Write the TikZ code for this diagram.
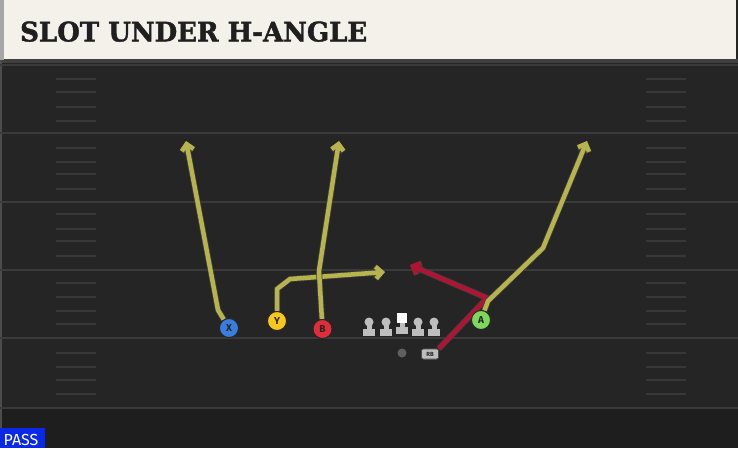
\documentclass[tikz,border=0pt]{standalone}
\usepackage{fontspec}
\usepackage{graphicx}
\setsansfont{Fira Sans}
\newfontfamily\titlefont{DejaVu Serif}[BoldFont={DejaVu Serif Bold}, BoldFeatures={FakeBold=1.6}]
\usetikzlibrary{arrows.meta}
\definecolor{field}{RGB}{37,37,37}
\definecolor{yardln}{RGB}{58,58,58}
\definecolor{hashc}{RGB}{56,56,56}
\definecolor{cream}{RGB}{244,241,235}
\definecolor{routeY}{RGB}{183,180,78}
\definecolor{routeR}{RGB}{176,20,52}
\definecolor{pX}{RGB}{58,125,222}
\definecolor{pY}{RGB}{246,200,30}
\definecolor{pB}{RGB}{224,45,58}
\definecolor{pA}{RGB}{126,214,90}
\definecolor{linem}{RGB}{190,190,190}
\definecolor{passblue}{RGB}{10,40,232}
\tikzset{
  yard/.style={draw=yardln, line width=2pt},
  hashm/.style={draw=hashc, line width=1.5pt},
  player/.style={circle, draw=black!85, line width=0.9pt, minimum size=19pt, inner sep=0pt,
     font=\sffamily\bfseries\fontsize{10}{10}\selectfont, text=black!85},
  rbbox/.style={rounded corners=2pt, fill=linem, draw=black!70, line width=0.6pt, minimum width=17pt, minimum height=10pt, inner sep=0pt,
     font=\sffamily\bfseries\fontsize{6}{6}\selectfont, text=black!85},
  route/.style={draw=#1, line width=4.5pt, line join=round,
     preaction={draw=black!75, line width=6pt},
     -{Straight Barb[length=6pt,width=12pt]}}
}
\begin{document}
\begin{tikzpicture}[x=1pt,y=-1pt]
\useasboundingbox (0,0) rectangle (738,448);
% field
\fill[field] (0,0) rectangle (738,448);
\fill[black!20!field] (0,408) rectangle (738,448);
\fill[black!75] (0,59) rectangle (738,63);
\fill[gray!60!black] (0,60) rectangle (2,448);
% yard lines
\foreach \yy in {65,133,202,270,338,408} {
  \draw[yard] (0,\yy) -- (738,\yy);
}
% hash marks
\foreach \yy in {79,92,107,121,148,162,174,189,214,229,241,256,283,297,311,324,353,367,380,394} {
  \draw[hashm] (56,\yy) -- (96,\yy);
  \draw[hashm] (646,\yy) -- (686,\yy);
}
% header
\fill[cream] (4,0) rectangle (736,59);
\fill[gray!70] (0,0) rectangle (4,60);
\node[anchor=south west, inner sep=0pt, text=black!88] (title) at (20,42)
  {\resizebox{347pt}{20pt}{\titlefont\bfseries SLOT UNDER H-ANGLE}};
% offensive line
\foreach \xx/\nm in {369/lt,386/lg,418/rg,434/rt} {
  \fill[linem] (\xx-6,329) rectangle (\xx+6,336);
  \fill[linem] (\xx-2.5,324) rectangle (\xx+2.5,331);
  \fill[linem] (\xx,322) circle (4.5pt);
  \coordinate (\nm) at (\xx,328);
}
\fill[linem] (396,327) rectangle (408,334);
\fill[linem] (399.5,322) rectangle (404.5,328);
\node[fill=white, minimum size=10pt, inner sep=0pt] (C) at (402,318) {};
\node[circle, fill=gray!75!black, minimum size=9pt, inner sep=0pt] (QB) at (402,353) {};
% routes
\coordinate (x1) at (218,310);
\coordinate (xe) at (186,141);
\coordinate (y1) at (277,289);
\coordinate (y2) at (290,279);
\coordinate (ye) at (385,272);
\coordinate (b1) at (319,271);
\coordinate (be) at (339,141);
\coordinate (a1) at (488,301);
\coordinate (a2) at (543,248);
\coordinate (ae) at (587,141);
\coordinate (r1) at (487,298);
\coordinate (re) at (410,265);
\node[player, fill=pX] (X) at (229,328) {X};
\node[player, fill=pY] (Y) at (277,321) {Y};
\node[player, fill=pB] (B) at (322.5,329) {B};
\node[player, fill=pA] (A) at (481,320) {A};
\node[rbbox] (RB) at (430,354) {RB};
\draw[route=routeR] (RB.north east) -- (r1) -- (re);
\draw[route=routeY] (X) -- (x1) -- (xe);
\draw[route=routeY] (Y) -- (y1) -- (y2) -- (ye);
\draw[route=routeY] (B) -- (b1) -- (be);
\draw[route=routeY] (A) -- (a1) -- (a2) -- (ae);
% players on top of routes
\node[player, fill=pX] at (X) {X};
\node[player, fill=pY] at (Y) {Y};
\node[player, fill=pB] at (B) {B};
\node[player, fill=pA] at (A) {A};
\node[rbbox] at (RB) {RB};
% PASS label
\fill[passblue] (0,428) rectangle (45,448);
\node[anchor=south west, inner sep=0pt, text=white, font=\sffamily\fontsize{16}{16}\selectfont] (pass) at (3.5,445.5) {PASS};
\end{tikzpicture}
\end{document}
